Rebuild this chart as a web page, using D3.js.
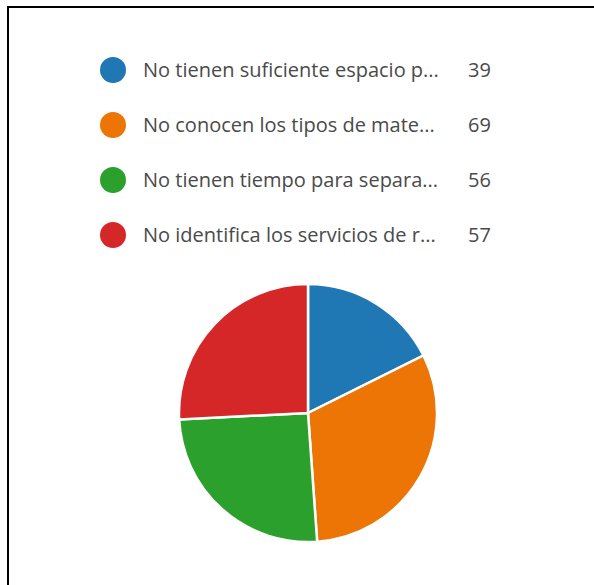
<!DOCTYPE html>
<html><head><meta charset="utf-8">
<script src="https://cdn.jsdelivr.net/npm/d3@7"></script>
<style>html,body{margin:0;padding:0;background:#fff;}</style>
</head><body>
<svg id="chart" width="594" height="585"></svg>
<script>
const categories = [
  "No tienen suficiente espacio p...",
  "No conocen los tipos de mate...",
  "No tienen tiempo para separa...",
  "No identifica los servicios de r..."
];
const values = [39, 69, 56, 57];
const colors = ["#1f77b4", "#ec7506", "#2ca02c", "#d62728"];

const svg = d3.select("#chart");
// frame lines (top and left)
svg.append("line").attr("x1", 7).attr("x2", 594).attr("y1", 7).attr("y2", 7)
  .attr("stroke", "#000").attr("stroke-width", 2);
svg.append("line").attr("x1", 8).attr("x2", 8).attr("y1", 6).attr("y2", 585)
  .attr("stroke", "#000").attr("stroke-width", 2);

const color = d3.scaleOrdinal().domain(categories).range(colors);
const y = d3.scalePoint().domain(categories).range([70, 235]);

const leg = svg.append("g").selectAll("g").data(categories).join("g")
  .attr("transform", d => `translate(0,${y(d)})`);
leg.append("circle").attr("cx", 113).attr("cy", 0).attr("r", 13).attr("fill", d => color(d));
leg.append("text").attr("x", 143).attr("y", 0).attr("dy", "0.35em")
  .attr("font-family", "'Open Sans', sans-serif").attr("font-size", 20).attr("fill", "#4a4a4a")
  .text(d => d);
leg.append("text").attr("x", 468).attr("y", 0).attr("dy", "0.35em")
  .attr("font-family", "'Open Sans', sans-serif").attr("font-size", 20).attr("fill", "#4a4a4a")
  .text((d, i) => values[i]);

const pie = d3.pie().sort(null).value(d => d.v);
const arc = d3.arc().innerRadius(0).outerRadius(129);
const data = categories.map((c, i) => ({c, v: values[i]}));
svg.append("g").attr("transform", "translate(308,413)")
  .selectAll("path").data(pie(data)).join("path")
  .attr("d", arc).attr("fill", d => color(d.data.c))
  .attr("stroke", "#fff").attr("stroke-width", 2.5);
</script>
</body></html>
